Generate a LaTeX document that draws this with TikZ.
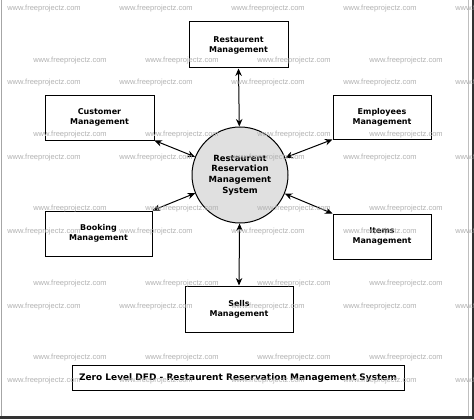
\documentclass[tikz,border=0pt]{standalone}
\usepackage{fontspec}
\setmainfont{DejaVu Sans}
\newfontfamily\wmfont{Liberation Sans}
\usetikzlibrary{arrows.meta, positioning}

\begin{document}
\begin{tikzpicture}[x=1pt,y=-1pt,
  proc/.style={draw,line width=1pt,fill=white,align=center,font=\bfseries\fontsize{8}{10}\selectfont,inner sep=0pt},
  flow/.style={line width=1pt,{Stealth[length=7.5pt,width=6.5pt]}-{Stealth[length=7.5pt,width=6.5pt]}},
  wm/.style={text=black!30,font=\wmfont\fontsize{7.5}{8}\selectfont,inner sep=0pt}]
  \useasboundingbox (0,0) rectangle (474,420);
  \fill[white] (0,0) rectangle (474,420);
  % frame
  \draw[black!35,line width=1.5pt] (1.5,0) -- (1.5,417);
  \draw[black!25,line width=0.8pt] (468.5,0) -- (468.5,417);
  \draw[black!80,line width=2.5pt] (0,417.5) -- (474,417.5);
  \draw[black!80,line width=2.5pt] (472.8,0) -- (472.8,418);

  % centre process
  \node[circle,draw,line width=1pt,fill=black!12,minimum size=96pt,align=center,inner sep=0pt,
        font=\bfseries\fontsize{8.5}{10.7}\selectfont] (sys) at (240,175)
        {Restaurent\\Reservation\\Management\\System};

  % entities
  \node[proc,minimum width=99pt,minimum height=46pt] (rest) at (238.5,45) {Restaurent\\Management};
  \node[proc,minimum width=109pt,minimum height=45pt] (cust) at (99.5,117.5) {Customer\\Management};
  \node[proc,minimum width=98pt,minimum height=44pt] (emp) at (382,117) {Employees\\Management};
  \node[proc,minimum width=107pt,minimum height=45pt] (book) at (98.5,233.5) {Booking\\Management};
  \node[proc,minimum width=98pt,minimum height=45pt] (items) at (382,236.5) {Items\\Management};
  \node[proc,minimum width=108pt,minimum height=46pt] (sells) at (239,309) {Sells\\Management};

  % flows
  \draw[flow] (rest.south) -- (sys);
  \draw[flow] (cust.south east) -- (sys);
  \draw[flow] (emp.south west) -- (sys);
  \draw[flow] (book.north east) -- (sys);
  \draw[flow] (items.north west) -- (sys);
  \draw[flow] (sells.north) -- (sys);

  % caption
  \node[proc,minimum width=332pt,minimum height=25pt,font=\bfseries\fontsize{9}{10}\selectfont]
        (title) at (238,378) {Zero Level DFD - Restaurent Reservation Management System};

  % watermark
  \foreach \y in {9,83,158,232,307,381}
    \foreach \x in {44,156,268,380,492}
      \node[wm] (wa-\x-\y) at (\x,\y) {www.freeprojectz.com};
  \foreach \y in {61,135,209,284,358}
    \foreach \x in {70,182,294,406}
      \node[wm] (wb-\x-\y) at (\x,\y) {www.freeprojectz.com};
\end{tikzpicture}
\end{document}
